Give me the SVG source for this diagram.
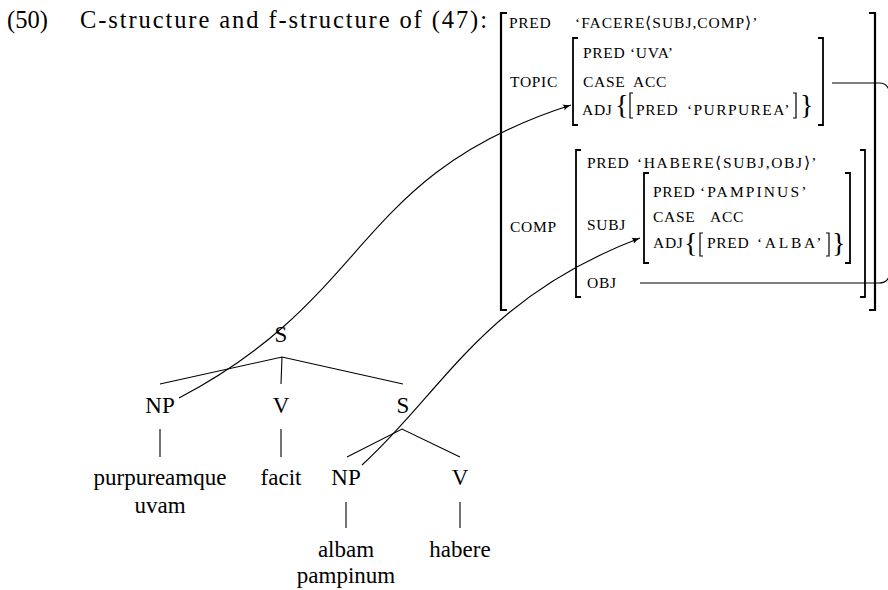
<svg xmlns="http://www.w3.org/2000/svg" width="888" height="590" viewBox="0 0 888 590">
<defs>
<marker id="arr" markerWidth="10" markerHeight="8" refX="8" refY="4" orient="auto" markerUnits="userSpaceOnUse">
<path d="M0,0.8 Q3.5,3 8,4 Q3.5,5 0,7.2 Q2,4 0,0.8 Z" fill="#000"/>
</marker>
<style>
text{font-family:"Liberation Serif","Times New Roman",serif;fill:#000}
.t{font-size:24.5px}
.n{font-size:23px;text-anchor:middle}
.sc{font-size:15.5px;letter-spacing:0.7px}
.br{fill:none;stroke:#000;stroke-width:2.2}
.bi{fill:none;stroke:#000;stroke-width:1.8}
.bs{fill:none;stroke:#000;stroke-width:1.2}
.ln{fill:none;stroke:#000;stroke-width:1.1}
.brace{font-size:28px}
</style>
</defs>
<rect width="888" height="590" fill="#fff"/>

<g id="title">
<text class="t" x="7" y="28">(50)</text>
<text class="t" x="80" y="28" textLength="407">C-structure and f-structure of (47):</text>
</g>

<g id="fstructure">
<path class="br" d="M507,13 H501 V310 H507"/>
<path class="br" d="M869,13 H875 V310 H869"/>
<text class="sc" x="509" y="28">PRED</text>
<text class="sc" x="575" y="28" textLength="183">‘FACERE⟨SUBJ,COMP⟩’</text>
<text class="sc" x="510" y="87">TOPIC</text>
<text class="sc" x="510" y="232">COMP</text>
</g>

<g id="topic">
<path class="bi" d="M578,38 H573 V125 H578"/>
<path class="bi" d="M818,38 H823 V125 H818"/>
<text class="sc" x="583" y="58">PRED</text>
<text class="sc" x="630" y="58">‘UVA’</text>
<text class="sc" x="583" y="87">CASE</text>
<text class="sc" x="633" y="87">ACC</text>
<text class="sc" x="582" y="115">ADJ</text>
<text class="brace" x="615" y="114">{</text>
<path class="bs" d="M633,93 H630 V118 H633"/>
<text class="sc" x="636" y="115">PRED</text>
<text class="sc" x="687" y="115" textLength="103">‘PURPUREA’</text>
<path class="bs" d="M793,93 H796 V118 H793"/>
<text class="brace" x="800" y="114">}</text>
</g>

<g id="comp">
<path class="bi" d="M581,150 H576 V297 H581"/>
<path class="bi" d="M860,150 H865 V297 H860"/>
<text class="sc" x="587" y="168">PRED</text>
<text class="sc" x="637" y="168" textLength="180">‘HABERE⟨SUBJ,OBJ⟩’</text>
<text class="sc" x="587" y="230">SUBJ</text>
<text class="sc" x="587" y="288">OBJ</text>
</g>

<g id="subj">
<path class="bi" d="M649,173 H644 V263 H649"/>
<path class="bi" d="M845,173 H850 V263 H845"/>
<text class="sc" x="653" y="197">PRED</text>
<text class="sc" x="700" y="197" textLength="107">‘PAMPINUS’</text>
<text class="sc" x="653" y="222">CASE</text>
<text class="sc" x="710" y="222">ACC</text>
<text class="sc" x="653" y="248">ADJ</text>
<text class="brace" x="684" y="252">{</text>
<path class="bs" d="M703,233 H700 V256 H703"/>
<text class="sc" x="707" y="248">PRED</text>
<text class="sc" x="757" y="248" textLength="65">‘ALBA’</text>
<path class="bs" d="M826,233 H829 V256 H826"/>
<text class="brace" x="832" y="252">}</text>
</g>

<g id="node-S"><text class="n" x="281" y="342">S</text></g>
<g id="node-NP1"><text class="n" x="160" y="413">NP</text></g>
<g id="node-V1"><text class="n" x="281" y="413">V</text></g>
<g id="node-S2"><text class="n" x="403" y="413">S</text></g>
<g id="leaf-purpureamque"><text class="n" x="160" y="485">purpureamque</text><text class="n" x="160" y="513">uvam</text></g>
<g id="leaf-facit"><text class="n" x="281" y="485">facit</text></g>
<g id="node-NP2"><text class="n" x="346" y="485">NP</text></g>
<g id="node-V2"><text class="n" x="460" y="485">V</text></g>
<g id="leaf-albam"><text class="n" x="346" y="557">albam</text><text class="n" x="346" y="583">pampinum</text></g>
<g id="leaf-habere"><text class="n" x="460" y="557">habere</text></g>

<g id="connectors">
<path class="ln" d="M160,384 L282,357 L403,384 M282,357 L281,384"/>
<path class="ln" d="M160,429 V457 M281,429 V457"/>
<path class="ln" d="M347,457 L402,429 L460,457"/>
<path class="ln" d="M346,502 V528 M460,502 V528"/>
<path class="ln" d="M179,398 C374,296 353,175 571,105" marker-end="url(#arr)"/>
<path class="ln" d="M362,465 C442,393 482,298 640,238" marker-end="url(#arr)"/>
<path class="ln" d="M832,83 H879 Q889,83 890,95 V272 Q889,283 879,283 H640"/>
</g>
</svg>
